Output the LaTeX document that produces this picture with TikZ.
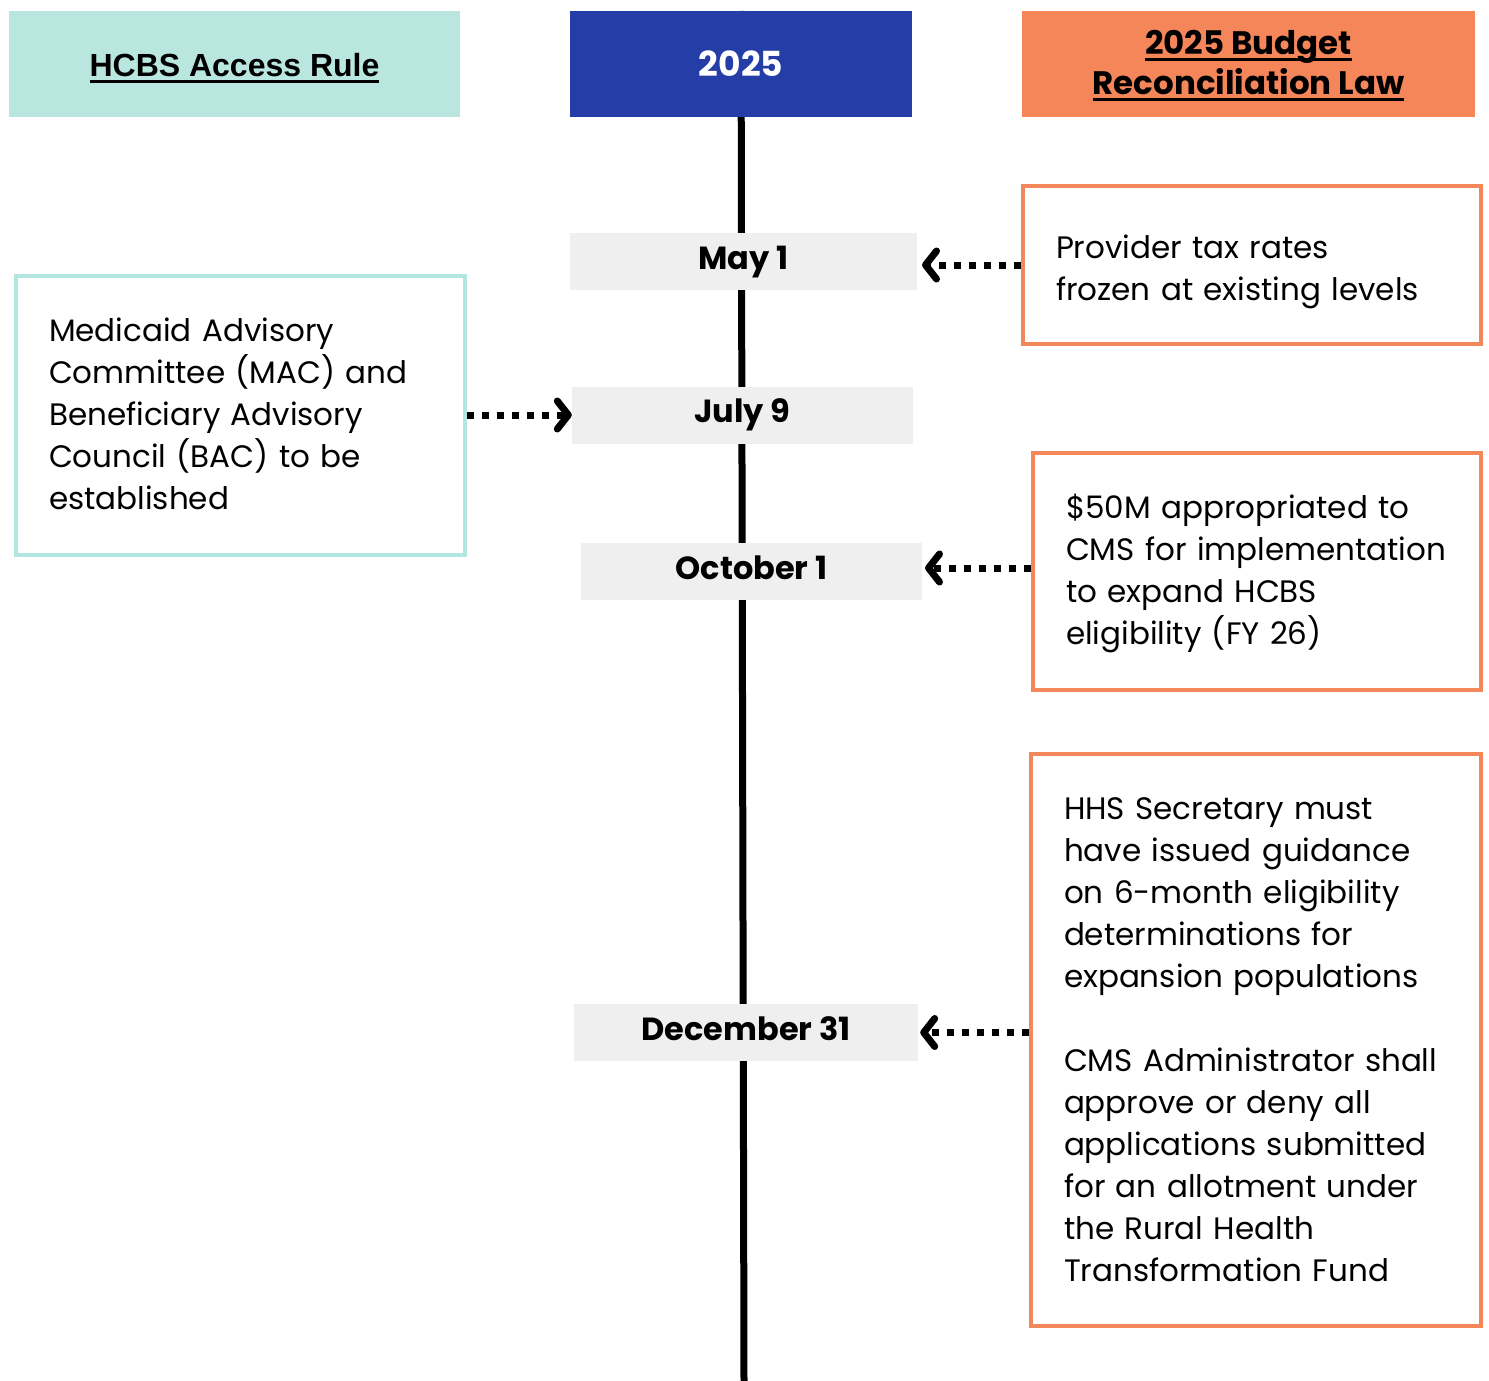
\documentclass[tikz,border=0pt]{standalone}
\usepackage{fontspec}
\setmainfont{Poppins}
\newfontfamily\hfont{Liberation Sans}
\usetikzlibrary{arrows.meta}
\hyphenpenalty=10000\relax
\exhyphenpenalty=10000\relax
\newcommand\myul[1]{\setbox0\hbox{#1}\leavevmode\rlap{\rule[-6pt]{\wd0}{2.6pt}}\box0}
\definecolor{teal}{HTML}{B9E7E0}
\definecolor{tealline}{HTML}{B3E6DF}
\definecolor{hblue}{HTML}{253DA7}
\definecolor{horange}{HTML}{F4865A}
\definecolor{oline}{HTML}{F2875A}
\definecolor{gbox}{HTML}{EFEFEF}
\tikzset{
  hdr/.style={minimum width=#1, minimum height=106pt, inner sep=0pt, align=center},
  datebox/.style={fill=gbox, minimum width=#1, minimum height=57pt, inner sep=0pt,
     text height=23pt, text depth=7.5pt,
     font=\fontsize{32}{42}\selectfont\bfseries},
  infobox/.style={draw=oline, line width=4pt, fill=white, minimum width=#1, inner xsep=33pt,
     text width=#1-66pt, align=left, text height=23pt,
     font=\fontsize{31}{42}\selectfont},
  leftbox/.style={infobox=#1, draw=tealline},
  dotarrow/.style={line width=7pt, dash pattern=on 7pt off 8pt,
     -{Straight Barb[length=11pt,width=28pt,line width=7pt,line cap=round,line join=round]}},
}
\begin{document}
\begin{tikzpicture}[x=1pt,y=-1pt]
\useasboundingbox (0,0) rectangle (1489,1381);
% timeline
\coordinate (ttop) at (741,11);
\coordinate (tbot) at (744,1381);
\draw[line width=7pt] (ttop) -- (tbot);
% headers
\node[hdr=451pt, fill=teal, text height=32pt, text depth=6pt,
      font=\hfont\fontsize{32}{42}\selectfont\bfseries] (h1) at (234.5,64) {\myul{HCBS Access Rule}};
\node[hdr=342pt, fill=hblue, text=white, text height=26pt, text depth=0pt,
      font=\fontsize{34.5}{42}\selectfont\bfseries] (h2) at (741,64) {2025};
\node[hdr=453pt, fill=horange, text height=68pt, text depth=6pt,
      font=\fontsize{32.5}{40}\selectfont\bfseries] (h3) at (1248.5,64) {\myul{2025 Budget}\\\myul{Reconciliation Law}};
% date boxes
\node[datebox=347pt] (may) at (743.5,261.5) {May 1};
\node[datebox=341pt] (jul) at (742.5,415) {July 9};
\node[datebox=341pt] (oct) at (751.5,571.5) {October 1};
\node[datebox=344pt] (dec) at (746,1032.5) {December 31};
% info boxes
\node[infobox=458pt, minimum height=158pt, text depth=37pt] (r1) at (1252,265) {Provider tax rates\\frozen at existing levels};
\node[infobox=448pt, minimum height=237pt, text depth=130pt] (r2) at (1257,571.5) {\$50M appropriated to\\CMS for implementation\\to expand HCBS\\eligibility (FY 26)};
\node[infobox=450pt, minimum height=572pt, text depth=465pt] (r3) at (1256,1040) {HHS Secretary must\\have issued guidance\\on 6-month eligibility\\determinations for\\expansion populations\\[42pt]CMS Administrator shall\\approve or deny all\\applications submitted\\for an allotment under\\the Rural Health\\Transformation Fund};
\node[leftbox=449pt, minimum height=279pt, text depth=172pt] (l1) at (240.5,415.5) {Medicaid Advisory\\Committee (MAC) and\\Beneficiary Advisory\\Council (BAC) to be\\established};
% arrows
\draw[dotarrow] (r1.west |- 0,265) -- (922,265);
\draw[dotarrow] (l1.east |- jul.west) -- (jul.west);
\draw[dotarrow] (r2.west |- 0,568) -- (925,568);
\draw[dotarrow] (r3.west |- dec.east) -- ([xshift=2pt]dec.east);
\end{tikzpicture}
\end{document}
